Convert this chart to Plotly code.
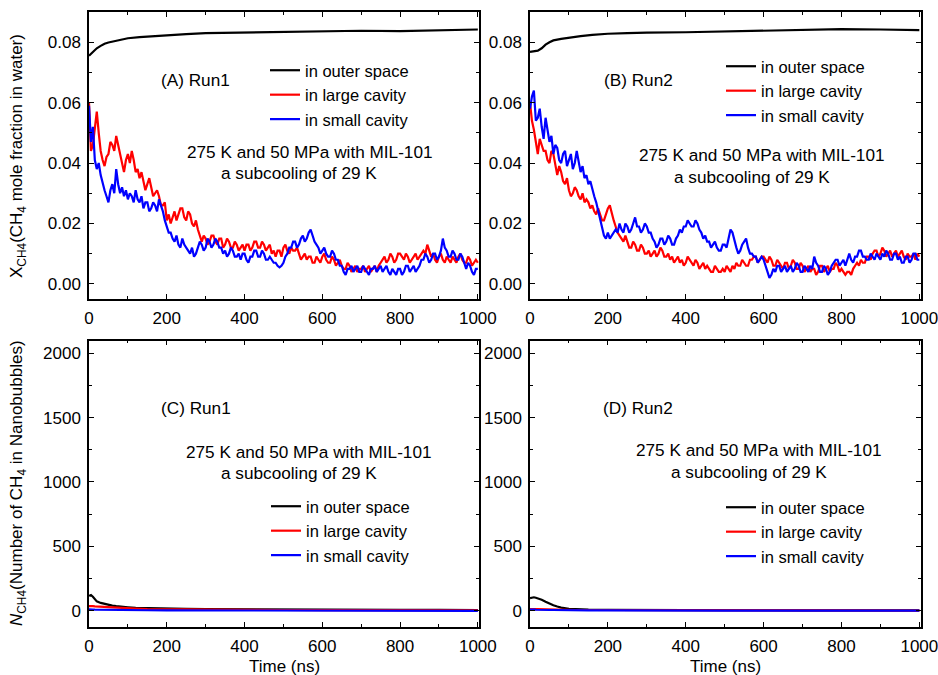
import plotly.graph_objects as go

# time grid (ns) for the noisy mole-fraction curves, 5 ns steps
t_top = list(range(0, 1001, 5))

# (A) Run1 - CH4 mole fraction in water (one row = 50 ns)
red_a = [0.060, 0.044, 0.046, 0.052, 0.057, 0.050, 0.044, 0.041, 0.039, 0.042,
         0.043, 0.047, 0.046, 0.044, 0.049, 0.046, 0.043, 0.040, 0.037, 0.041,
         0.043, 0.040, 0.044, 0.041, 0.037, 0.038, 0.035, 0.037, 0.034, 0.031,
         0.033, 0.035, 0.032, 0.029, 0.030, 0.031, 0.029, 0.026, 0.026, 0.027,
         0.021, 0.023, 0.020, 0.022, 0.024, 0.021, 0.023, 0.025, 0.025, 0.022,
         0.021, 0.024, 0.023, 0.020, 0.019, 0.021, 0.018, 0.016, 0.014, 0.016,
         0.015, 0.013, 0.014, 0.016, 0.016, 0.014, 0.013, 0.015, 0.015, 0.012,
         0.013, 0.015, 0.014, 0.012, 0.012, 0.014, 0.013, 0.011, 0.012, 0.013,
         0.011, 0.013, 0.013, 0.011, 0.012, 0.014, 0.014, 0.012, 0.012, 0.014,
         0.013, 0.011, 0.012, 0.013, 0.010, 0.011, 0.009, 0.011, 0.011, 0.009,
         0.012, 0.013, 0.011, 0.010, 0.012, 0.011, 0.011, 0.012, 0.010, 0.008,
         0.009, 0.010, 0.008, 0.009, 0.009, 0.007, 0.007, 0.009, 0.008, 0.007,
         0.009, 0.010, 0.008, 0.007, 0.007, 0.009, 0.008, 0.006, 0.007, 0.008,
         0.006, 0.005, 0.005, 0.007, 0.006, 0.004, 0.005, 0.006, 0.004, 0.005,
         0.005, 0.006, 0.004, 0.005, 0.006, 0.004, 0.005, 0.006, 0.004, 0.006,
         0.007, 0.008, 0.009, 0.007, 0.008, 0.010, 0.009, 0.007, 0.008, 0.010,
         0.010, 0.009, 0.008, 0.010, 0.009, 0.007, 0.008, 0.009, 0.010, 0.008,
         0.009, 0.010, 0.011, 0.010, 0.013, 0.011, 0.009, 0.010, 0.008, 0.007,
         0.009, 0.010, 0.008, 0.007, 0.009, 0.008, 0.007, 0.009, 0.008, 0.007,
         0.009, 0.010, 0.008, 0.007, 0.007, 0.009, 0.008, 0.006, 0.007, 0.008,
         0.007]
blue_a = [0.059, 0.047, 0.052, 0.041, 0.038, 0.040, 0.036, 0.033, 0.031, 0.029,
          0.027, 0.031, 0.033, 0.030, 0.038, 0.033, 0.030, 0.032, 0.029, 0.031,
          0.028, 0.030, 0.029, 0.027, 0.031, 0.028, 0.027, 0.029, 0.025, 0.027,
          0.027, 0.024, 0.025, 0.027, 0.026, 0.024, 0.028, 0.026, 0.024, 0.021,
          0.019, 0.017, 0.017, 0.015, 0.014, 0.016, 0.013, 0.012, 0.015, 0.013,
          0.012, 0.011, 0.010, 0.012, 0.009, 0.010, 0.012, 0.014, 0.013, 0.011,
          0.012, 0.015, 0.014, 0.012, 0.013, 0.015, 0.014, 0.012, 0.012, 0.010,
          0.011, 0.009, 0.010, 0.012, 0.011, 0.009, 0.009, 0.010, 0.008, 0.010,
          0.010, 0.008, 0.007, 0.009, 0.009, 0.011, 0.011, 0.009, 0.009, 0.011,
          0.010, 0.008, 0.008, 0.009, 0.008, 0.007, 0.007, 0.006, 0.0055, 0.006,
          0.007, 0.009, 0.010, 0.012, 0.012, 0.014, 0.014, 0.012, 0.013, 0.015,
          0.016, 0.014, 0.015, 0.017, 0.018, 0.016, 0.014, 0.013, 0.012, 0.010,
          0.011, 0.012, 0.010, 0.009, 0.009, 0.011, 0.010, 0.008, 0.008, 0.006,
          0.006, 0.004, 0.003, 0.005, 0.005, 0.006, 0.004, 0.005, 0.006, 0.004,
          0.004, 0.006, 0.005, 0.004, 0.003, 0.005, 0.005, 0.006, 0.004, 0.005,
          0.006, 0.004, 0.005, 0.006, 0.004, 0.003, 0.005, 0.004, 0.003, 0.005,
          0.005, 0.003, 0.004, 0.006, 0.006, 0.004, 0.005, 0.006, 0.004, 0.005,
          0.006, 0.008, 0.008, 0.010, 0.009, 0.007, 0.008, 0.010, 0.010, 0.008,
          0.009, 0.011, 0.015, 0.012, 0.011, 0.009, 0.009, 0.011, 0.010, 0.008,
          0.008, 0.010, 0.009, 0.007, 0.005, 0.007, 0.006, 0.004, 0.003, 0.005,
          0.005]

# (B) Run2
red_b = [0.060, 0.054, 0.051, 0.047, 0.043, 0.048, 0.046, 0.044, 0.044, 0.041,
         0.040, 0.044, 0.043, 0.039, 0.036, 0.039, 0.037, 0.034, 0.033, 0.035,
         0.031, 0.029, 0.030, 0.032, 0.031, 0.029, 0.028, 0.030, 0.027, 0.028,
         0.027, 0.025, 0.026, 0.024, 0.023, 0.025, 0.023, 0.021, 0.021, 0.023,
         0.025, 0.026, 0.023, 0.021, 0.019, 0.017, 0.016, 0.015, 0.014, 0.016,
         0.014, 0.012, 0.012, 0.014, 0.013, 0.011, 0.011, 0.013, 0.012, 0.010,
         0.010, 0.011, 0.009, 0.010, 0.011, 0.009, 0.010, 0.012, 0.011, 0.009,
         0.009, 0.010, 0.008, 0.009, 0.007, 0.008, 0.009, 0.007, 0.008, 0.006,
         0.007, 0.009, 0.008, 0.007, 0.006, 0.008, 0.007, 0.005, 0.006, 0.007,
         0.005, 0.006, 0.005, 0.004, 0.004, 0.006, 0.005, 0.004, 0.004, 0.005,
         0.004, 0.006, 0.005, 0.004, 0.006, 0.005, 0.007, 0.006, 0.006, 0.008,
         0.007, 0.006, 0.006, 0.008, 0.008, 0.009, 0.009, 0.007, 0.008, 0.009,
         0.009, 0.008, 0.007, 0.009, 0.008, 0.006, 0.006, 0.008, 0.007, 0.006,
         0.005, 0.007, 0.007, 0.005, 0.006, 0.008, 0.007, 0.005, 0.005, 0.007,
         0.006, 0.004, 0.005, 0.006, 0.004, 0.005, 0.005, 0.003, 0.004, 0.006,
         0.006, 0.004, 0.005, 0.006, 0.004, 0.005, 0.005, 0.007, 0.006, 0.004,
         0.005, 0.004, 0.003, 0.004, 0.004, 0.003, 0.005, 0.006, 0.007, 0.006,
         0.008, 0.007, 0.007, 0.009, 0.009, 0.008, 0.010, 0.011, 0.011, 0.009,
         0.010, 0.012, 0.011, 0.009, 0.010, 0.011, 0.009, 0.010, 0.011, 0.009,
         0.010, 0.011, 0.009, 0.008, 0.010, 0.009, 0.009, 0.010, 0.008, 0.010,
         0.009]
blue_b = [0.058, 0.062, 0.064, 0.054, 0.055, 0.058, 0.052, 0.048, 0.055, 0.051,
          0.047, 0.049, 0.043, 0.046, 0.045, 0.041, 0.040, 0.043, 0.044, 0.039,
          0.041, 0.043, 0.038, 0.040, 0.044, 0.040, 0.037, 0.039, 0.035, 0.036,
          0.033, 0.034, 0.031, 0.029, 0.027, 0.024, 0.022, 0.018, 0.016, 0.015,
          0.017, 0.015, 0.016, 0.017, 0.018, 0.017, 0.020, 0.018, 0.017, 0.020,
          0.019, 0.017, 0.018, 0.020, 0.022, 0.019, 0.019, 0.017, 0.018, 0.020,
          0.019, 0.017, 0.017, 0.015, 0.014, 0.012, 0.013, 0.015, 0.015, 0.013,
          0.014, 0.016, 0.015, 0.013, 0.013, 0.015, 0.016, 0.018, 0.017, 0.019,
          0.019, 0.021, 0.020, 0.019, 0.019, 0.021, 0.020, 0.018, 0.017, 0.015,
          0.016, 0.014, 0.014, 0.012, 0.013, 0.014, 0.012, 0.011, 0.011, 0.013,
          0.013, 0.012, 0.015, 0.018, 0.017, 0.014, 0.012, 0.010, 0.011, 0.013,
          0.014, 0.015, 0.012, 0.010, 0.010, 0.009, 0.009, 0.007, 0.008, 0.009,
          0.008, 0.006, 0.004, 0.002, 0.003, 0.005, 0.004, 0.006, 0.006, 0.004,
          0.005, 0.006, 0.004, 0.005, 0.006, 0.004, 0.005, 0.007, 0.006, 0.004,
          0.004, 0.006, 0.005, 0.004, 0.006, 0.005, 0.009, 0.007, 0.006, 0.004,
          0.004, 0.006, 0.005, 0.003, 0.004, 0.006, 0.007, 0.008, 0.008, 0.006,
          0.007, 0.008, 0.006, 0.008, 0.010, 0.008, 0.007, 0.009, 0.009, 0.011,
          0.011, 0.009, 0.009, 0.008, 0.008, 0.010, 0.009, 0.008, 0.010, 0.009,
          0.008, 0.010, 0.009, 0.011, 0.010, 0.008, 0.008, 0.010, 0.010, 0.008,
          0.009, 0.007, 0.007, 0.009, 0.009, 0.007, 0.008, 0.010, 0.010, 0.008,
          0.008]

# outer space curves are smooth, sparser grid
t_black = [0, 10, 20, 30, 40, 50, 60, 80, 100, 130, 160, 200, 250, 300, 400,
           500, 600, 700, 800, 900, 1000]
black_a = [0.0755, 0.0768, 0.0780, 0.0788, 0.0795, 0.0799, 0.0802, 0.0808,
           0.0813, 0.0817, 0.0820, 0.0823, 0.0827, 0.0830, 0.0832, 0.0835,
           0.0836, 0.0838, 0.0837, 0.0839, 0.0842]
black_b = [0.0768, 0.0770, 0.0772, 0.0780, 0.0792, 0.0800, 0.0806, 0.0811,
           0.0815, 0.0820, 0.0824, 0.0828, 0.0830, 0.0832, 0.0833, 0.0836,
           0.0838, 0.0841, 0.0843, 0.0842, 0.0840]

# (C)/(D) number of CH4 in nanobubbles
t_bot = [0, 5, 10, 15, 20, 30, 40, 50, 60, 70, 80, 100, 120, 150, 200, 250,
         300, 400, 500, 600, 700, 800, 900, 1000]
black_c = [115, 122, 108, 90, 72, 60, 52, 45, 39, 35, 31, 26, 21, 18, 16, 14,
           12, 10, 9, 8, 7, 6, 6, 5]
red_c = [36, 38, 35, 33, 32, 30, 28, 26, 24, 22, 21, 19, 16, 13, 11, 9, 8, 6,
         5, 4, 3, 3, 2, 2]
blue_c = [10, 12, 9, 8, 8, 7, 6, 6, 5, 5, 4, 4, 3, 3, 2, 2, 1, 1, 0, 0, -1, -1,
          -1, -1]
black_d = [98, 102, 104, 100, 96, 85, 70, 55, 42, 32, 24, 15, 10, 8, 6, 5, 4,
           4, 3, 3, 2, 2, 2, 2]
red_d = [12, 14, 13, 12, 12, 11, 10, 9, 9, 8, 7, 6, 5, 5, 4, 4, 3, 3, 2, 2, 2,
         1, 1, 1]
blue_d = [8, 10, 9, 8, 7, 6, 6, 5, 5, 4, 4, 3, 3, 2, 2, 1, 1, 1, 0, 0, 0, 0, 0,
          0]

names = ["in outer space", "in large cavity", "in small cavity"]
colors = ["#000000", "#ff0000", "#0000ff"]
panel_tags = ["(A) Run1", "(B) Run2", "(C) Run1", "(D) Run2"]
cond1 = "275 K and 50 MPa with MIL-101"
cond2 = "a subcooling of 29 K"

W, H = 938, 675
FONT = "Liberation Sans, Arial, sans-serif"
FS = 17.2


def px_x(v):
    return v / W


def px_y(v):
    return 1 - v / H


fig = go.Figure()

panels = [
    (t_black, black_a, t_top, red_a, t_top, blue_a, "x", "y", "legend"),
    (t_black, black_b, t_top, red_b, t_top, blue_b, "x2", "y2", "legend2"),
    (t_bot, black_c, t_bot, red_c, t_bot, blue_c, "x3", "y3", "legend3"),
    (t_bot, black_d, t_bot, red_d, t_bot, blue_d, "x4", "y4", "legend4"),
]
for p in panels:
    series = [(p[0], p[1]), (p[2], p[3]), (p[4], p[5])]
    for i, (tx, vy) in enumerate(series):
        fig.add_trace(go.Scatter(x=tx, y=vy, mode="lines", name=names[i],
                                 line=dict(color=colors[i], width=2.2),
                                 xaxis=p[6], yaxis=p[7], legend=p[8]))

ax_common = dict(showline=True, linecolor="black", linewidth=1.5,
                 mirror="ticks", ticks="inside", ticklen=5, tickwidth=1.3,
                 tickcolor="black", showgrid=False, zeroline=False,
                 automargin=False, ticklabelstandoff=3,
                 ticklabeloverflow="allow",
                 tickfont=dict(family=FONT, size=17, color="black"),
                 minor=dict(ticks="inside", ticklen=3, tickwidth=1.1,
                            tickcolor="black", showgrid=False))

x_doms = [(89, 479), (530, 920.5)]
y_doms = [(12, 299), (340.7, 627)]

layout = dict(width=W, height=H, margin=dict(l=0, r=0, t=0, b=0),
              paper_bgcolor="white", plot_bgcolor="white",
              font=dict(family=FONT, size=FS, color="black"))

for k in range(4):
    xd = x_doms[k % 2]
    yd = y_doms[k // 2]
    sx = "" if k == 0 else str(k + 1)
    xa = dict(ax_common, domain=[px_x(xd[0]), px_x(xd[1])], range=[0, 1003],
              dtick=200, tick0=0, minor_dtick=100,
              anchor="y" + sx)
    if k // 2 == 0:
        ya = dict(ax_common, domain=[px_y(yd[1]), px_y(yd[0])],
                  range=[-0.005, 0.09], dtick=0.02, tick0=0,
                  tickformat=".2f", minor_dtick=0.01, anchor="x" + sx)
    else:
        ya = dict(ax_common, domain=[px_y(yd[1]), px_y(yd[0])],
                  range=[-127, 2098], dtick=500, tick0=0,
                  minor_dtick=250, anchor="x" + sx)
    layout["xaxis" + sx] = xa
    layout["yaxis" + sx] = ya

# legends placed inside each panel (left edge, top edge in px)
leg_pos = [(265, 53), (721, 49), (266, 489), (721, 490)]
for k, (lx, ly) in enumerate(leg_pos):
    key = "legend" if k == 0 else "legend" + str(k + 1)
    layout[key] = dict(x=px_x(lx), y=px_y(ly), xanchor="left", yanchor="top",
                       bgcolor="rgba(0,0,0,0)", borderwidth=0,
                       font=dict(family=FONT, size=16.5, color="black"),
                       tracegroupgap=0)

fig.update_layout(**layout)

# panel labels and condition text (positions in px)
text_pos = [
    (159, 80, 185, 152, 219, 173),
    (602, 80, 637, 155, 672, 177),
    (159, 408, 184, 452, 219, 473),
    (601, 408, 634, 450, 669, 472),
]
for k, (x1, y1, x2, y2, x3, y3) in enumerate(text_pos):
    for tx, ty, s in [(x1, y1, panel_tags[k]), (x2, y2, cond1), (x3, y3, cond2)]:
        fig.add_annotation(x=px_x(tx), y=px_y(ty), xref="paper", yref="paper",
                           text=s, showarrow=False, xanchor="left",
                           yanchor="middle", font=dict(size=FS))

# axis titles
fig.add_annotation(x=px_x(18), y=px_y(156), xref="paper", yref="paper",
                   text="X<sub>CH4</sub>(CH<sub>4</sub> mole fraction in water)",
                   textangle=-90, showarrow=False, xanchor="center",
                   yanchor="middle", font=dict(size=17))
fig.add_annotation(x=px_x(18), y=px_y(483), xref="paper", yref="paper",
                   text="<i>N</i><sub>CH4</sub>(Number of CH<sub>4</sub> in Nanobubbles)",
                   textangle=-90, showarrow=False, xanchor="center",
                   yanchor="middle", font=dict(size=17))
for cx in [284, 725]:
    fig.add_annotation(x=px_x(cx), y=px_y(666), xref="paper", yref="paper",
                       text="Time (ns)", showarrow=False, xanchor="center",
                       yanchor="middle", font=dict(size=17))

# drop the default page margin so the 938x675 figure fills the window exactly
fig.write_html("out.html", config={"displayModeBar": False},
               post_script="document.body.style.margin='0';")
